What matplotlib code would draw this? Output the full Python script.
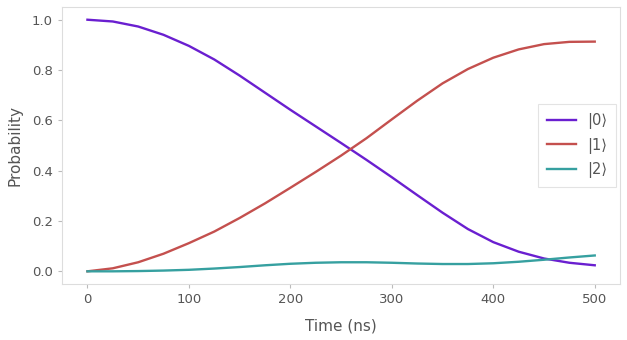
import numpy as np
import matplotlib
matplotlib.use('Agg')
import matplotlib.pyplot as plt

# tempo em ns
time_ns = [0, 25, 50, 75, 100, 125, 150, 175, 200, 225, 250,
           275, 300, 325, 350, 375, 400, 425, 450, 475, 500]

# populacoes
p0 = [1.0, 0.993, 0.973, 0.94, 0.896, 0.842, 0.778, 0.71, 0.642, 0.576, 0.51,
      0.443, 0.374, 0.303, 0.233, 0.168, 0.116, 0.078, 0.051, 0.034, 0.024]
p1 = [0.0, 0.012, 0.036, 0.07, 0.112, 0.158, 0.212, 0.27, 0.332, 0.395, 0.46,
      0.529, 0.604, 0.678, 0.747, 0.804, 0.849, 0.882, 0.903, 0.912, 0.913]
p2 = [0.0, 0.0, 0.001, 0.003, 0.006, 0.011, 0.017, 0.024, 0.03, 0.034, 0.036,
      0.036, 0.034, 0.031, 0.029, 0.029, 0.032, 0.038, 0.046, 0.055, 0.063]

labels = ['|0⟩', '|1⟩', '|2⟩']
colors = ['#6a1fd0', '#c4504e', '#36a0a0']

fig = plt.figure(figsize=(6.27, 3.4), dpi=100)
ax = fig.add_axes([0.099, 0.165, 0.89, 0.814])

for y, lab, c in zip([p0, p1, p2], labels, colors):
    ax.plot(time_ns, y, color=c, lw=1.7, label=lab, solid_joinstyle='round')

ax.set_xlim(-25, 525)
ax.set_ylim(-0.05, 1.05)
ax.set_xticks([0, 100, 200, 300, 400, 500])
ax.set_yticks([0.0, 0.2, 0.4, 0.6, 0.8, 1.0])

for s in ax.spines.values():
    s.set_color('#dddddd')
    s.set_linewidth(0.8)
ax.tick_params(colors='#bbbbbb', labelcolor='#555555', labelsize=9.5, length=3, width=0.8)

ax.set_xlabel('Time (ns)', color='#555555', fontsize=11, labelpad=9)
ax.set_ylabel('Probability', color='#555555', fontsize=11, labelpad=7)

leg = ax.legend(loc='center right', fontsize=10.5, frameon=True, fancybox=False,
                borderpad=0.6, handlelength=2.0, labelspacing=0.6, borderaxespad=0.25)
leg.get_frame().set_edgecolor('#dddddd')
leg.get_frame().set_linewidth(0.8)
for t in leg.get_texts():
    t.set_color('#555555')

fig.savefig('out.png', dpi=100)
